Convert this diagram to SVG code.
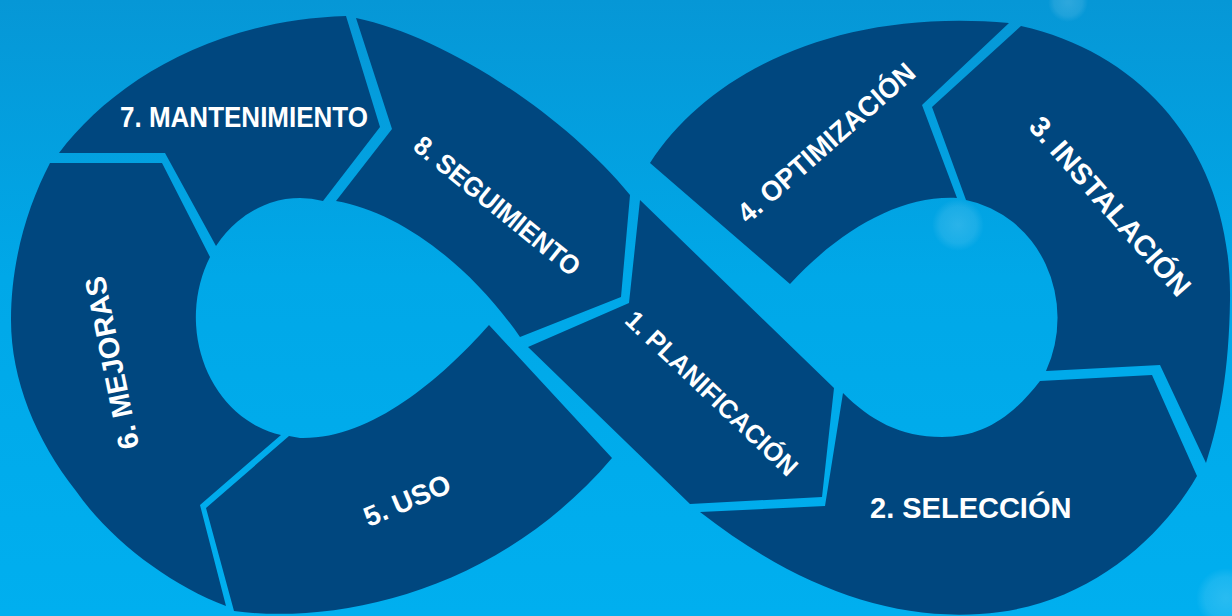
<svg xmlns="http://www.w3.org/2000/svg" width="1232" height="616" viewBox="0 0 1232 616">
  <defs>
    <linearGradient id="bg" x1="0" y1="0" x2="0" y2="1">
      <stop offset="0" stop-color="#0697d6"/>
      <stop offset="0.45" stop-color="#00a8e8"/>
      <stop offset="1" stop-color="#00afef"/>
    </linearGradient>
    <radialGradient id="glow">
      <stop offset="0" stop-color="#ffffff" stop-opacity="0.16"/>
      <stop offset="0.7" stop-color="#ffffff" stop-opacity="0.1"/>
      <stop offset="1" stop-color="#ffffff" stop-opacity="0"/>
    </radialGradient>
  </defs>
  <style>
    .seg { fill: #00477f; }
    .lbl { fill: #ffffff; font-family: "Liberation Sans", Arial, sans-serif; font-weight: bold; }
  </style>
  <rect x="0" y="0" width="1232" height="616" fill="url(#bg)"/>
  <circle cx="1068" cy="2" r="20" fill="url(#glow)"/>
  <circle cx="1226" cy="598" r="30" fill="url(#glow)"/>
  <circle cx="958" cy="225" r="26" fill="url(#glow)"/>

  <g id="connectors"></g>

  <g id="seg1">
    <path class="seg" d="M640,200 L629,303 L528,347 L690,504 L822,497 L834,388 Z"/>
    <text class="lbl" font-size="26" text-anchor="middle" textLength="226" lengthAdjust="spacingAndGlyphs" transform="translate(712,393) rotate(43.5)" x="0" y="9.3">1. PLANIFICACIÓN</text>
  </g>

  <g id="seg2">
    <path class="seg" d="M843,393 L825,506 L700,512 C800,590 900,625 1000,612 C1090,600 1160,540 1197,476 L1152,375 L1040,381 C1010,420 980,437 942,437 C900,437 870,420 843,393 Z"/>
    <text class="lbl" font-size="29" x="870" y="518">2. SELECCIÓN</text>
  </g>

  <g id="seg3">
    <path class="seg" d="M1021,26 C1150,55 1232,160 1230,300 C1229,370 1220,420 1206,463 L1160,365 L1046,371 A112,120 0 0 0 966,200 L932,107 Z"/>
    <text class="lbl" font-size="29" text-anchor="middle" textLength="228" lengthAdjust="spacingAndGlyphs" transform="translate(1110.5,206) rotate(48.7)" x="0" y="10.4">3. INSTALACIÓN</text>
  </g>

  <g id="seg4">
    <path class="seg" d="M650,163 C710,70 840,8 1009,23 L922,105 L957,198 C900,195 840,230 790,284 Z"/>
    <text class="lbl" font-size="28" text-anchor="middle" textLength="226" lengthAdjust="spacingAndGlyphs" transform="translate(826,142.5) rotate(-41.3)" x="0" y="10">4. OPTIMIZACIÓN</text>
  </g>

  <g id="seg5">
    <path class="seg" d="M289,436 L206,508 L234,611 C340,625 500,590 612,458 L489,325 C440,380 370,440 300,438 Z"/>
    <text class="lbl" font-size="28" text-anchor="middle" transform="translate(407,500) rotate(-23)" x="0" y="10">5. USO</text>
  </g>

  <g id="seg6">
    <path class="seg" d="M50,163 L162,163 L210,257 A105,120 0 0 0 281,435 L200,505 L226,606 C170,585 110,540 76,491 C36,440 11,380 11,320 C11,260 28,205 50,163 Z"/>
    <text class="lbl" font-size="29" text-anchor="middle" transform="translate(111.5,363) rotate(-101.5)" x="0" y="10.4">6. MEJORAS</text>
  </g>

  <g id="seg7">
    <path class="seg" d="M59,153 C110,85 210,20 346,16 L380,127 L323,201 A105,120 0 0 0 216,246 L165,153 Z"/>
    <text class="lbl" font-size="29" x="120" y="127" textLength="248" lengthAdjust="spacingAndGlyphs">7. MANTENIMIENTO</text>
  </g>

  <g id="seg8">
    <path class="seg" d="M356,18 C440,35 560,110 630,195 L621,297 L520,337 C470,265 400,212 336,201 L392,129 Z"/>
    <text class="lbl" font-size="27" text-anchor="middle" textLength="205" lengthAdjust="spacingAndGlyphs" transform="translate(497.5,205.5) rotate(38.9)" x="0" y="9.7">8. SEGUIMIENTO</text>
  </g>
</svg>
